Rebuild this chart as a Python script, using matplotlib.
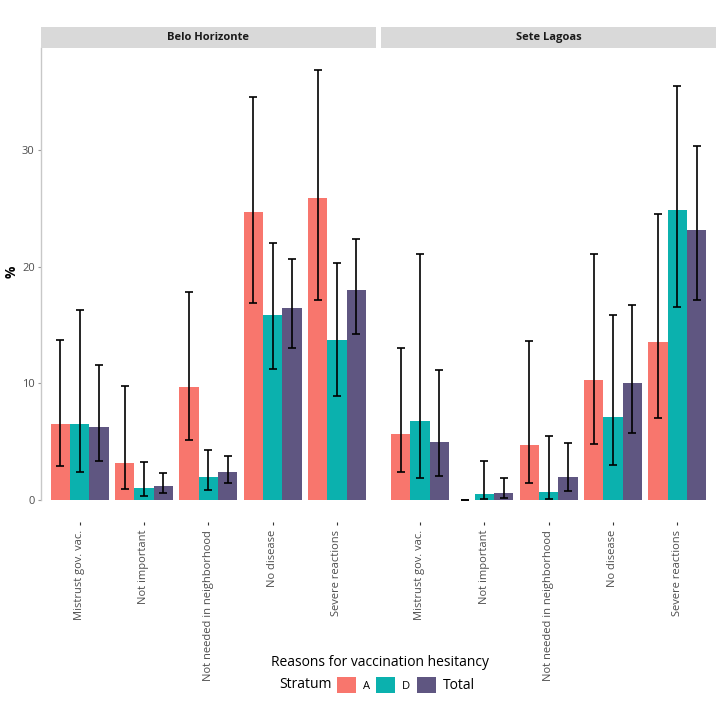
import matplotlib.pyplot as plt
import numpy as np
from matplotlib.patches import Patch

plt.rcParams['font.family'] = ['Open Sans', 'DejaVu Sans']

reasons = ['Mistrust gov. vac.', 'Not important', 'Not needed in neighborhood',
           'No disease', 'Severe reactions']
strata = ['A', 'D', 'Total']
colors = ['#F8766D', '#0BB1AE', '#5F5681']

# Belo Horizonte
bh_a = [6.5, 3.15, 9.7, 24.71, 25.86]
bh_a_lo = [2.9, 0.97, 5.1, 16.91, 17.14]
bh_a_hi = [13.7, 9.8, 17.85, 34.57, 36.86]
bh_d = [6.5, 1.06, 1.95, 15.85, 13.73]
bh_d_lo = [2.37, 0.34, 0.83, 11.19, 8.9]
bh_d_hi = [16.25, 3.29, 4.29, 22.03, 20.34]
bh_t = [6.27, 1.17, 2.37, 16.46, 18.0]
bh_t_lo = [3.38, 0.57, 1.46, 13.0, 14.25]
bh_t_hi = [11.53, 2.32, 3.8, 20.63, 22.4]

# Sete Lagoas
sl_a = [5.69, 0.0, 4.69, 10.3, 13.5]
sl_a_lo = [2.37, 0.0, 1.46, 4.78, 7.0]
sl_a_hi = [13.0, 0.0, 13.6, 21.09, 24.51]
sl_d = [6.78, 0.49, 0.66, 7.1, 24.83]
sl_d_lo = [1.86, 0.06, 0.06, 2.98, 16.57]
sl_d_hi = [21.09, 3.38, 5.49, 15.82, 35.49]
sl_t = [4.98, 0.57, 1.95, 10.0, 23.12]
sl_t_lo = [2.06, 0.14, 0.77, 5.78, 17.14]
sl_t_hi = [11.1, 1.86, 4.86, 16.71, 30.34]

panels = [
    ('Belo Horizonte', [(bh_a, bh_a_lo, bh_a_hi), (bh_d, bh_d_lo, bh_d_hi), (bh_t, bh_t_lo, bh_t_hi)]),
    ('Sete Lagoas', [(sl_a, sl_a_lo, sl_a_hi), (sl_d, sl_d_lo, sl_d_hi), (sl_t, sl_t_lo, sl_t_hi)]),
]

W, H = 722, 709
fig = plt.figure(figsize=(W / 100, H / 100), dpi=100)

ymax = 38.74
bw = 0.3
x = np.arange(len(reasons))
lefts = [41, 381.4]
pw = 334.5
top_px, bot_px = 48, 500

for i, (city, series) in enumerate(panels):
    ax = fig.add_axes([lefts[i] / W, 1 - bot_px / H, pw / W, (bot_px - top_px) / H])
    for j, (vals, lo, hi) in enumerate(series):
        xs = x + (j - 1) * bw
        ax.bar(xs, vals, width=bw, color=colors[j], edgecolor='none', zorder=2)
        vals = np.array(vals)
        err = [vals - np.array(lo), np.array(hi) - vals]
        ax.errorbar(xs, vals, yerr=err, fmt='none', ecolor='black', elinewidth=1.2,
                    capsize=3.2, capthick=1.2, zorder=3)
    ax.set_xlim(-0.6, len(reasons) - 0.4)
    ax.set_ylim(0, ymax)
    for s in ['top', 'right', 'bottom']:
        ax.spines[s].set_visible(False)
    ax.spines['bottom'].set_position(('outward', 16))
    ax.set_xticks(x)
    ax.set_xticklabels(reasons, rotation=90, fontsize=8, color='#4D4D4D')
    ax.tick_params(axis='x', length=2.5, width=0.8, color='#333333', pad=3)
    if i == 0:
        ax.spines['left'].set_color('#C8C8C8')
        ax.spines['left'].set_linewidth(1.0)
        ax.set_yticks([0, 10, 20, 30])
        ax.tick_params(axis='y', length=2.5, width=0.8, color='#999999',
                       labelsize=8, labelcolor='#4D4D4D', pad=2)
    else:
        ax.spines['left'].set_visible(False)
        ax.set_yticks([])

    # facet strip
    sax = fig.add_axes([lefts[i] / W, 1 - 47.7 / H, pw / W, 20.4 / H])
    sax.set_facecolor('#D9D9D9')
    sax.set_xticks([])
    sax.set_yticks([])
    for s in sax.spines.values():
        s.set_visible(False)
    sax.text(0.5, 0.5, city, ha='center', va='center', fontsize=8,
             fontweight='bold', color='#1A1A1A', transform=sax.transAxes)

fig.text(12 / W, 1 - 272 / H, '%', ha='center', va='center', rotation=90,
         fontsize=10, fontweight='bold')
fig.text(380 / W, 1 - 662 / H, 'Reasons for vaccination hesitancy',
         ha='center', va='center', fontsize=10, color='#000000')
fig.text(332 / W, 1 - 685 / H, 'Stratum', ha='right', va='center', fontsize=10)

handles = [Patch(facecolor=c, edgecolor='none') for c in colors]
leg = fig.legend(handles, strata, loc='center left', bbox_to_anchor=(337 / W, 1 - 685 / H),
                 ncol=3, frameon=False, fontsize=10, handlelength=1.37, handleheight=1.37,
                 handletextpad=0.5, columnspacing=0.45, borderpad=0, borderaxespad=0)
for t in leg.get_texts()[:2]:
    t.set_fontsize(8)

fig.savefig('out.png', dpi=100)
